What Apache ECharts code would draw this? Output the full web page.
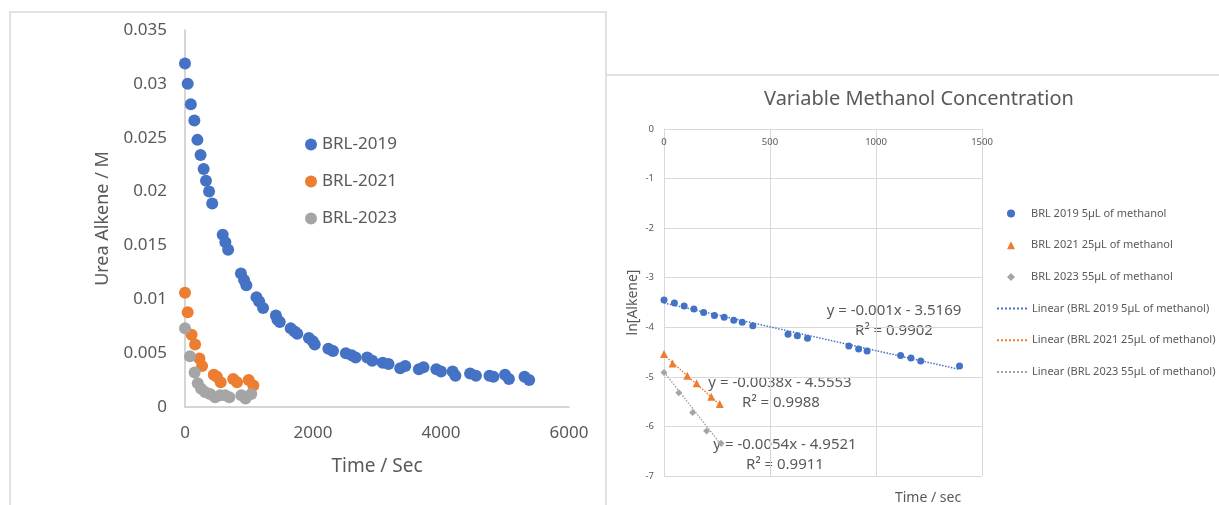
<!DOCTYPE html>
<html>
<head>
<meta charset="utf-8">
<script src="https://cdn.jsdelivr.net/npm/echarts@6/dist/echarts.min.js"></script>
<style>
html,body{margin:0;padding:0;background:#fff;}
#main{width:1219px;height:505px;}
</style>
</head>
<body>
<div id="main"></div>
<script>
// left chart - concentration vs time
var names1 = ['BRL-2019', 'BRL-2021', 'BRL-2023'];
var t2019 = [0,42,91,146,194,243,291,328,376,425,589,631,674,874,923,959,1117,1159,1220,1420,1445,1481,1651,1712,1754,1936,1997,2027,2240,2313,2513,2604,2665,2847,2926,3090,3181,3363,3442,3654,3727,3927,4000,4182,4225,4455,4546,4758,4819,5001,5062,5305,5378];
var c2019 = [0.0319,0.0300,0.0281,0.0266,0.0248,0.0234,0.0221,0.0210,0.0200,0.0189,0.0160,0.0153,0.0146,0.0124,0.0118,0.0113,0.0102,0.0098,0.0092,0.0085,0.0081,0.0079,0.0073,0.0070,0.0068,0.0064,0.0061,0.0058,0.0054,0.0052,0.0050,0.0048,0.0046,0.0046,0.0043,0.0041,0.0040,0.0036,0.0038,0.0035,0.0037,0.0035,0.0033,0.0033,0.0029,0.0031,0.0029,0.0029,0.0028,0.0030,0.0026,0.0028,0.0025];
var t2021 = [0,42,103,158,225,267,449,498,558,753,813,995,1068];
var c2021 = [0.0106,0.0088,0.0067,0.0058,0.0045,0.0038,0.0030,0.0028,0.0023,0.0026,0.0023,0.0025,0.0020];
var t2023 = [0,78,150,200,252,313,391,470,550,627,693,880,945,1035];
var c2023 = [0.0073,0.0047,0.0032,0.0022,0.0017,0.0014,0.0012,0.0009,0.0011,0.0011,0.0009,0.0011,0.0008,0.0012];

// right chart - ln[Alkene] vs time
var names2 = ['BRL 2019 5µL of methanol', 'BRL 2021 25µL of methanol', 'BRL 2023 55µL of methanol'];
var names3 = ['Linear (BRL 2019 5µL of methanol)', 'Linear (BRL 2021 25µL of methanol)', 'Linear (BRL 2023 55µL of methanol)'];
var lt2019 = [0,49,95,141,187,238,284,329,369,419,585,629,677,872,918,958,1116,1165,1211,1394];
var ln2019 = [-3.45,-3.51,-3.57,-3.63,-3.70,-3.76,-3.80,-3.86,-3.90,-3.97,-4.14,-4.17,-4.22,-4.38,-4.44,-4.48,-4.57,-4.62,-4.68,-4.78];
var lt2021 = [0,40,110,154,223,263];
var ln2021 = [-4.54,-4.73,-4.98,-5.13,-5.40,-5.55];
var lt2023 = [0,70,135,201,269];
var ln2023 = [-4.91,-5.32,-5.72,-6.09,-6.34];
// trendline end points
var trend2019 = [[0,-3.51],[1394,-4.85]];
var trend2021 = [[0,-4.56],[263,-5.56]];
var trend2023 = [[0,-4.90],[275,-6.40]];
var eqs = [
	['y = -0.001x - 3.5169', 'R² = 0.9902'],
	['y = -0.0038x - 4.5553', 'R² = 0.9988'],
	['y = -0.0054x - 4.9521', 'R² = 0.9911']
];

var colors = ['#4472C4', '#ED7D31', '#A5A5A5'];
var FONT = '"Noto Sans", "Open Sans", sans-serif';
var txt = '#595959';

function pairs(xs, ys){
	var out = [];
	for(var i=0;i<xs.length;i++){
		out.push([xs[i], ys[i]]);
	}
	return out;
}
function plain(v){ return String(v); }

var myChart = echarts.init(document.getElementById('main'), null, {renderer:'canvas'});

var option = {
	animation: false,
	textStyle: {fontFamily: FONT},
	title: {
		text: 'Variable Methanol Concentration',
		left: 919, top: 89, padding: 0,
		textAlign: 'center',
		textStyle: {fontFamily: FONT, fontSize: 20, fontWeight: 'normal', color: txt}
	},
	legend: [
		{
			data: names1,
			orient: 'vertical',
			left: 305, top: 136,
			itemWidth: 12, itemHeight: 12,
			itemGap: 20,
			padding: 0,
			textStyle: {fontFamily: FONT, fontSize: 17, color: txt}
		},
		{
			// marker entries
			data: names2,
			orient: 'vertical',
			left: 1007, top: 208,
			itemWidth: 8, itemHeight: 8,
			itemGap: 20.7,
			padding: 0,
			textStyle: {fontFamily: FONT, fontSize: 11, color: txt, padding: [0, 0, 0, 11]}
		},
		{
			// trendline entries
			data: names3.map(function(n){ return {name: n, itemStyle: {opacity: 0}}; }),
			orient: 'vertical',
			left: 996, top: 303,
			itemWidth: 30, itemHeight: 8,
			itemGap: 20.7,
			padding: 0,
			textStyle: {fontFamily: FONT, fontSize: 11, color: txt}
		}
	],
	grid: [
		{left: 185, right: 650, top: 30, bottom: 98, containLabel: false, outerBoundsMode: 'none'},
		{left: 664, right: 237, top: 129, bottom: 29, containLabel: false, outerBoundsMode: 'none'}
	],
	xAxis: [
		{
			gridIndex: 0, type: 'value', min: 0, max: 6000, interval: 2000,
			name: 'Time / Sec', nameLocation: 'middle', nameGap: 50,
			nameTextStyle: {fontFamily: FONT, fontSize: 19, color: txt},
			axisLine: {lineStyle: {color: '#C8C8C8', width: 1.5}},
			axisTick: {show: false},
			axisLabel: {fontFamily: FONT, fontSize: 17, color: txt, margin: 18, formatter: plain},
			splitLine: {show: false}
		},
		{
			gridIndex: 1, type: 'value', min: 0, max: 1500, interval: 500,
			position: 'top',
			axisLine: {lineStyle: {color: '#D9D9D9', width: 1}},
			axisTick: {show: false},
			axisLabel: {inside: true, fontFamily: FONT, fontSize: 9.5, color: txt, margin: 8, formatter: plain},
			splitLine: {show: true, lineStyle: {color: '#D9D9D9', width: 1}}
		}
	],
	yAxis: [
		{
			gridIndex: 0, type: 'value', min: 0, max: 0.035, interval: 0.005,
			name: 'Urea Alkene / M', nameLocation: 'middle', nameGap: 73,
			nameTextStyle: {fontFamily: FONT, fontSize: 18, color: txt},
			axisLine: {show: true, lineStyle: {color: '#C8C8C8', width: 1.5}},
			axisTick: {show: false},
			axisLabel: {fontFamily: FONT, fontSize: 17, color: txt, margin: 18},
			splitLine: {show: false}
		},
		{
			gridIndex: 1, type: 'value', min: -7, max: 0, interval: 1,
			name: 'ln[Alkene]', nameLocation: 'middle', nameGap: 24,
			nameTextStyle: {fontFamily: FONT, fontSize: 14, color: txt},
			axisLine: {show: true, lineStyle: {color: '#D9D9D9', width: 1}},
			axisTick: {show: false},
			axisLabel: {fontFamily: FONT, fontSize: 9.5, color: txt, margin: 10, formatter: plain},
			splitLine: {show: true, lineStyle: {color: '#D9D9D9', width: 1}}
		}
	],
	series: [
		{name: names1[0], type: 'scatter', xAxisIndex: 0, yAxisIndex: 0, symbol: 'circle', symbolSize: 12, itemStyle: {color: colors[0], opacity: 1}, data: pairs(t2019, c2019)},
		{name: names1[1], type: 'scatter', xAxisIndex: 0, yAxisIndex: 0, symbol: 'circle', symbolSize: 12, itemStyle: {color: colors[1], opacity: 1}, data: pairs(t2021, c2021)},
		{name: names1[2], type: 'scatter', xAxisIndex: 0, yAxisIndex: 0, symbol: 'circle', symbolSize: 12, itemStyle: {color: colors[2], opacity: 1}, data: pairs(t2023, c2023)},

		{name: names3[0], type: 'line', xAxisIndex: 1, yAxisIndex: 1, symbol: 'none', color: colors[0], lineStyle: {color: colors[0], type: 'dotted', width: 1.5}, data: trend2019},
		{name: names3[1], type: 'line', xAxisIndex: 1, yAxisIndex: 1, symbol: 'none', color: colors[1], lineStyle: {color: colors[1], type: 'dotted', width: 1.5}, data: trend2021},
		{name: names3[2], type: 'line', xAxisIndex: 1, yAxisIndex: 1, symbol: 'none', color: colors[2], lineStyle: {color: colors[2], type: 'dotted', width: 1.5}, data: trend2023},

		{name: names2[0], type: 'scatter', xAxisIndex: 1, yAxisIndex: 1, symbol: 'circle', symbolSize: 7, itemStyle: {color: colors[0], opacity: 1}, data: pairs(lt2019, ln2019)},
		{name: names2[1], type: 'scatter', xAxisIndex: 1, yAxisIndex: 1, symbol: 'triangle', symbolSize: 8, itemStyle: {color: colors[1], opacity: 1}, data: pairs(lt2021, ln2021)},
		{name: names2[2], type: 'scatter', xAxisIndex: 1, yAxisIndex: 1, symbol: 'diamond', symbolSize: 7, itemStyle: {color: colors[2], opacity: 1}, data: pairs(lt2023, ln2023)}
	],
	graphic: [
		// chart frames
		{type: 'rect', shape: {x: 10, y: 12, width: 596, height: 520}, style: {fill: 'none', stroke: '#D9D9D9', lineWidth: 1.5}, z: -10, silent: true},
		{type: 'line', shape: {x1: 606, y1: 75, x2: 1219, y2: 75}, style: {stroke: '#D9D9D9', lineWidth: 1.5}, z: -10, silent: true},
		{type: 'text', x: 928, y: 498, style: {text: 'Time / sec', fill: txt, font: '14px ' + FONT, textAlign: 'center', textVerticalAlign: 'middle'}},
		// trendline labels
		{type: 'text', x: 894, y: 311, style: {text: eqs[0][0], fill: txt, font: '15px ' + FONT, textAlign: 'center', textVerticalAlign: 'middle'}},
		{type: 'text', x: 894, y: 331, style: {text: eqs[0][1], fill: txt, font: '15px ' + FONT, textAlign: 'center', textVerticalAlign: 'middle'}},
		{type: 'text', x: 780, y: 383, style: {text: eqs[1][0], fill: txt, font: '15px ' + FONT, textAlign: 'center', textVerticalAlign: 'middle'}},
		{type: 'text', x: 781, y: 403, style: {text: eqs[1][1], fill: txt, font: '15px ' + FONT, textAlign: 'center', textVerticalAlign: 'middle'}},
		{type: 'text', x: 785, y: 445, style: {text: eqs[2][0], fill: txt, font: '15px ' + FONT, textAlign: 'center', textVerticalAlign: 'middle'}},
		{type: 'text', x: 785, y: 465, style: {text: eqs[2][1], fill: txt, font: '15px ' + FONT, textAlign: 'center', textVerticalAlign: 'middle'}}
	]
};
myChart.setOption(option);
</script>
</body>
</html>
